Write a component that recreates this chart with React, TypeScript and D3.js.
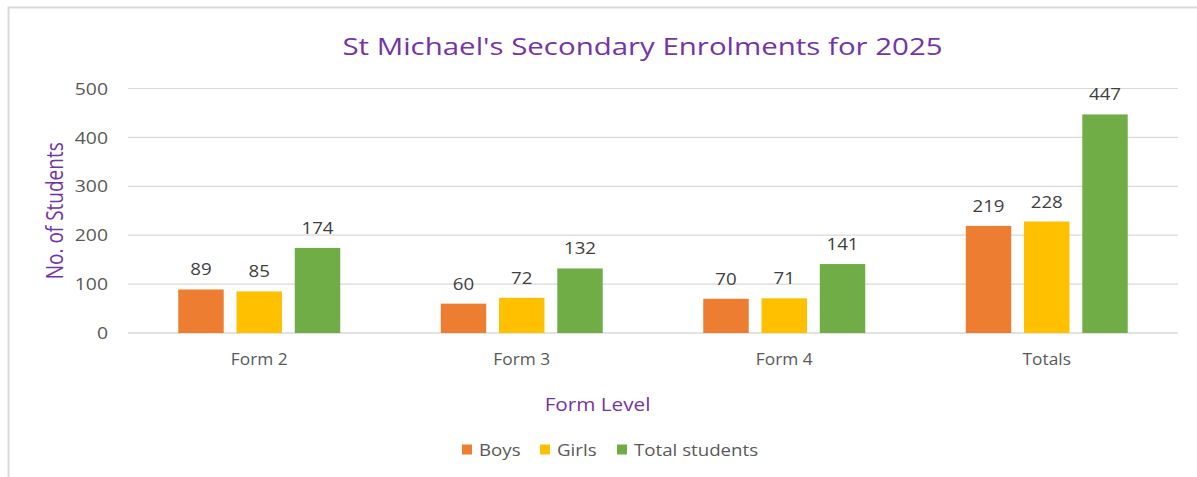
import React from "react";
import * as d3 from "d3";

const categories = ["Form 2", "Form 3", "Form 4", "Totals"];
const seriesNames = ["Boys", "Girls", "Total students"];
const boys = [89, 60, 70, 219];
const girls = [85, 72, 71, 228];
const totalStudents = [174, 132, 141, 447];
const yTicks = [0, 100, 200, 300, 400, 500];
const colors = ["#ED7D31", "#FFC000", "#70AD47"];

const W = 1197;
const H = 477;
const FONT = "'Open Sans', 'Noto Sans', sans-serif";
const PURPLE = "#7434A8";
const GRAY = "#595959";

export default function App() {
  const values = [boys, girls, totalStudents];
  const left = 128, right = 1178, top = 88.5, bottom = 333;
  const x0 = d3.scaleBand<string>().domain(categories).range([left, right]).padding(0);
  const groupW = x0.bandwidth() * 0.617;
  const x1 = d3.scaleBand<string>().domain(seriesNames).range([0, groupW]).paddingInner(0.22);
  const y = d3.scaleLinear().domain([0, 500]).range([bottom, top]);

  const legendItems = [
    { name: "Boys", x: 462 },
    { name: "Girls", x: 540 },
    { name: "Total students", x: 617 },
  ];

  return (
    <svg width={W} height={H} style={{ position: "absolute", left: 0, top: 0 }} fontFamily={FONT}>
      <rect x={0} y={0} width={W} height={H} fill="#fff" />
      <rect x={8.5} y={7.5} width={1300} height={600} fill="#fff" stroke="#d9d9d9" strokeWidth={2} />
      <text
        transform="translate(642.5, 55) scale(1.28, 1)"
        textAnchor="middle"
        fontSize={23}
        fill={PURPLE}
      >
        St Michael's Secondary Enrolments for 2025
      </text>
      {yTicks.map((t) => (
        <g key={t}>
          <line x1={left} x2={right} y1={y(t)} y2={y(t)} stroke="#d9d9d9" strokeWidth={t === 0 ? 1.5 : 1.2} />
          <text
            transform={`translate(108, ${y(t)}) scale(1.14, 1)`}
            dy="0.36em"
            textAnchor="end"
            fontSize={17}
            fill={GRAY}
          >
            {t}
          </text>
        </g>
      ))}
      {categories.map((c, ci) => {
        const gx = (x0(c) as number) + (x0.bandwidth() - groupW) / 2;
        return (
          <g key={c}>
            {seriesNames.map((s, si) => {
              const v = values[si][ci];
              const bx = gx + (x1(s) as number);
              return (
                <g key={s}>
                  <rect x={bx} y={y(v)} width={x1.bandwidth()} height={bottom - y(v)} fill={colors[si]} />
                  <text
                    transform={`translate(${bx + x1.bandwidth() / 2}, ${y(v) - 14}) scale(1.1, 1)`}
                    textAnchor="middle"
                    fontSize={17}
                    fill="#404040"
                  >
                    {v}
                  </text>
                </g>
              );
            })}
            <text
              transform={`translate(${(x0(c) as number) + x0.bandwidth() / 2}, 365) scale(1.05, 1)`}
              textAnchor="middle"
              fontSize={16.5}
              fill={GRAY}
            >
              {c}
            </text>
          </g>
        );
      })}
      <text
        transform={`translate(62.5, ${(top + bottom) / 2}) scale(1.25, 1) rotate(-90)`}
        textAnchor="middle"
        fontSize={19}
        fill={PURPLE}
      >
        No. of Students
      </text>
      <text transform="translate(597.5, 411) scale(1.09, 1)" textAnchor="middle" fontSize={19} fill={PURPLE}>
        Form Level
      </text>
      {legendItems.map((d, i) => (
        <g key={d.name}>
          <rect x={d.x} y={444.5} width={10} height={10} fill={colors[i]} />
          <text
            transform={`translate(${d.x + 17}, 449.5) scale(1.1, 1)`}
            dy="0.36em"
            fontSize={17}
            fill={GRAY}
          >
            {d.name}
          </text>
        </g>
      ))}
    </svg>
  );
}
